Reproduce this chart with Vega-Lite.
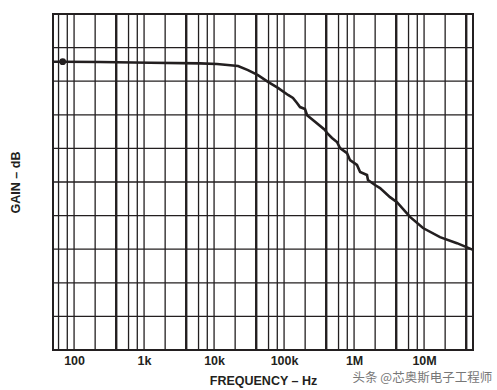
{
  "$schema": "https://vega.github.io/schema/vega-lite/v6.json",
  "width": 420,
  "height": 336,
  "autosize": {"type": "none"},
  "padding": {"left": 53, "top": 14, "right": 24, "bottom": 40},
  "background": "white",
  "config": {
    "view": {"stroke": "#231f20", "strokeWidth": 2},
    "font": "Liberation Sans"
  },
  "title": {
    "text": "头条 @芯奥斯电子工程师",
    "orient": "bottom",
    "anchor": "end",
    "offset": -15,
    "dx": 14,
    "color": "#777777",
    "fontSize": 12.5,
    "fontWeight": "normal",
    "font": "Noto Sans CJK SC"
  },
  "datasets": {
    "curve": [
      {"f": 50, "g": 8.58},
      {"f": 68.8, "g": 8.58},
      {"f": 235, "g": 8.57},
      {"f": 1216, "g": 8.55},
      {"f": 6300, "g": 8.53},
      {"f": 11000, "g": 8.51},
      {"f": 14300, "g": 8.49},
      {"f": 22000, "g": 8.45},
      {"f": 30500, "g": 8.33},
      {"f": 42400, "g": 8.18},
      {"f": 58900, "g": 7.98},
      {"f": 81800, "g": 7.8},
      {"f": 114000, "g": 7.59},
      {"f": 134000, "g": 7.5},
      {"f": 153000, "g": 7.35},
      {"f": 169000, "g": 7.23},
      {"f": 199000, "g": 7.17},
      {"f": 213000, "g": 6.99},
      {"f": 277000, "g": 6.79},
      {"f": 384000, "g": 6.55},
      {"f": 410000, "g": 6.46},
      {"f": 484000, "g": 6.31},
      {"f": 570000, "g": 6.19},
      {"f": 630000, "g": 6.01},
      {"f": 793000, "g": 5.86},
      {"f": 875000, "g": 5.65},
      {"f": 1100000, "g": 5.51},
      {"f": 1220000, "g": 5.3},
      {"f": 1530000, "g": 5.21},
      {"f": 1580000, "g": 5.06},
      {"f": 1990000, "g": 4.91},
      {"f": 2350000, "g": 4.82},
      {"f": 3260000, "g": 4.55},
      {"f": 4100000, "g": 4.4},
      {"f": 6300000, "g": 3.96},
      {"f": 9660000, "g": 3.63},
      {"f": 16900000, "g": 3.36},
      {"f": 29500000, "g": 3.18},
      {"f": 50000000, "g": 2.98}
    ],
    "marker": [{"f": 68.8, "g": 8.58}],
    "hgrid": [
      {"g": 1}, {"g": 2}, {"g": 3}, {"g": 4}, {"g": 5}, {"g": 6}, {"g": 7}, {"g": 8}, {"g": 9}
    ],
    "vgrid": [
      {"f": 60, "kind": "minor"}, {"f": 80, "kind": "minor"},
      {"f": 100, "kind": "minor"}, {"f": 200, "kind": "minor"}, {"f": 400, "kind": "major"}, {"f": 600, "kind": "minor"}, {"f": 800, "kind": "minor"},
      {"f": 1000, "kind": "minor"}, {"f": 2000, "kind": "minor"}, {"f": 4000, "kind": "major"}, {"f": 6000, "kind": "minor"}, {"f": 8000, "kind": "minor"},
      {"f": 10000, "kind": "minor"}, {"f": 20000, "kind": "minor"}, {"f": 40000, "kind": "major"}, {"f": 60000, "kind": "minor"}, {"f": 80000, "kind": "minor"},
      {"f": 100000, "kind": "minor"}, {"f": 200000, "kind": "minor"}, {"f": 400000, "kind": "major"}, {"f": 600000, "kind": "minor"}, {"f": 800000, "kind": "minor"},
      {"f": 1000000, "kind": "minor"}, {"f": 2000000, "kind": "minor"}, {"f": 4000000, "kind": "major"}, {"f": 6000000, "kind": "minor"}, {"f": 8000000, "kind": "minor"},
      {"f": 10000000, "kind": "minor"}, {"f": 20000000, "kind": "minor"}, {"f": 40000000, "kind": "major"}
    ]
  },
  "layer": [
    {
      "data": {"name": "vgrid"},
      "mark": {"type": "rule", "color": "#231f20"},
      "encoding": {
        "x": {
          "field": "f",
          "type": "quantitative",
          "scale": {"type": "log", "domain": [50, 50000000], "nice": false},
          "axis": {
            "values": [100, 1000, 10000, 100000, 1000000, 10000000],
            "format": "~s",
            "grid": false,
            "ticks": false,
            "domain": false,
            "labelFontSize": 12.5,
            "labelFontWeight": "bold",
            "labelColor": "#231f20",
            "labelPadding": 4,
            "title": "FREQUENCY – Hz",
            "titleFontSize": 12.5,
            "titleFontWeight": "bold",
            "titleColor": "#231f20",
            "titlePadding": 8
          }
        },
        "strokeWidth": {
          "field": "kind",
          "type": "nominal",
          "scale": {"domain": ["minor", "major"], "range": [1.3, 2.4]},
          "legend": null
        }
      }
    },
    {
      "data": {"name": "hgrid"},
      "mark": {"type": "rule", "color": "#231f20", "strokeWidth": 1.3},
      "encoding": {
        "y": {
          "field": "g",
          "type": "quantitative",
          "scale": {"domain": [0, 10], "nice": false, "zero": false},
          "axis": {
            "grid": false,
            "labels": false,
            "ticks": false,
            "domain": false,
            "title": "GAIN – dB",
            "titleFontSize": 12.5,
            "titleFontWeight": "bold",
            "titleColor": "#231f20",
            "titlePadding": 31
          }
        }
      }
    },
    {
      "data": {"name": "curve"},
      "mark": {"type": "line", "color": "#231f20", "strokeWidth": 2.6},
      "encoding": {
        "x": {"field": "f", "type": "quantitative"},
        "y": {"field": "g", "type": "quantitative"}
      }
    },
    {
      "data": {"name": "marker"},
      "mark": {"type": "point", "filled": true, "color": "#231f20", "opacity": 1, "size": 45},
      "encoding": {
        "x": {"field": "f", "type": "quantitative"},
        "y": {"field": "g", "type": "quantitative"}
      }
    }
  ]
}
